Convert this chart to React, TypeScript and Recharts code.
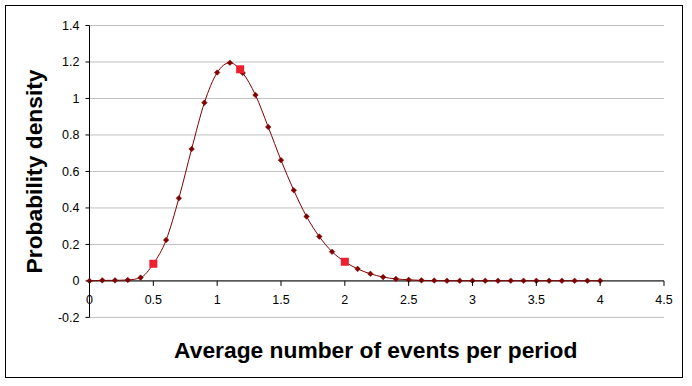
import React from 'react';
import {
  ComposedChart,
  Line,
  Scatter,
  XAxis,
  YAxis,
  CartesianGrid,
  ReferenceLine,
  Label,
} from 'recharts';

// events per period (x) and density
const xValues = [
  0, 0.1, 0.2, 0.3, 0.4, 0.5, 0.6, 0.7, 0.8, 0.9, 1.0, 1.1, 1.2, 1.3, 1.4, 1.5, 1.6, 1.7, 1.8, 1.9, 2.0,
  2.1, 2.2, 2.3, 2.4, 2.5, 2.6, 2.7, 2.8, 2.9, 3.0, 3.1, 3.2, 3.3, 3.4, 3.5, 3.6, 3.7, 3.8, 3.9, 4.0,
];
const density = [
  0, 0.003, 0.003, 0.005, 0.018, 0.094, 0.224, 0.453, 0.723, 0.977, 1.142, 1.196, 1.14, 1.019, 0.844,
  0.662, 0.497, 0.353, 0.243, 0.16, 0.105, 0.066, 0.039, 0.021, 0.011, 0.006, 0.003, 0.002, 0.001, 0.001,
  0.001, 0.001, 0.001, 0.001, 0.001, 0.001, 0.001, 0.001, 0.001, 0.001, 0.001,
];

// highlighted points (red squares)
const markX = [0.5, 1.18, 2.0];
const markY = [0.094, 1.16, 0.105];

const xTicks = [0, 0.5, 1, 1.5, 2, 2.5, 3, 3.5, 4, 4.5];
const yTicks = [-0.2, 0, 0.2, 0.4, 0.6, 0.8, 1, 1.2, 1.4];

const curve = xValues.map((x, i) => ({ x, y: density[i] }));
const marks = markX.map((x, i) => ({ x, y: markY[i] }));

const W = 692;
const H = 386;
const MARGIN = { top: 25.5, right: 28, bottom: 2.6, left: 0 };
const X_AXIS_H = 66;
const Y_MIN = -0.2;
const Y_MAX = 1.4;
const FONT = '"Liberation Sans", Arial, sans-serif';
const TITLE_SIZE = 22.8;

const plotH = H - MARGIN.top - MARGIN.bottom - X_AXIS_H;
// distance from the plot bottom up to the y = 0 line, where the x axis crosses
const zeroLift = (plotH * (0 - Y_MIN)) / (Y_MAX - Y_MIN);

const XTick = (props: any) => {
  const { x, y, payload } = props;
  const y0 = y - zeroLift;
  return (
    <g>
      <line x1={x} x2={x} y1={y0} y2={y0 + 5} stroke="#000" />
      <text x={x} y={y0 + 19} dy="0.35em" textAnchor="middle" fontSize={12.5} fontFamily={FONT} fill="#000">
        {payload.value}
      </text>
    </g>
  );
};

const Diamond = (props: any) => {
  const { cx, cy, index } = props;
  if (cx == null || cy == null) return <g key={`d-${index}`} />;
  const r = 2.8;
  return (
    <polygon
      key={`d-${index}`}
      points={`${cx},${cy - r} ${cx + r},${cy} ${cx},${cy + r} ${cx - r},${cy}`}
      fill="#800000"
      stroke="#800000"
      strokeWidth={0.5}
    />
  );
};

const RedSquare = (props: any) => {
  const { cx, cy } = props;
  return <rect x={cx - 4} y={cy - 4} width={8} height={8} fill="#EE2030" />;
};

export default function App() {
  return (
    <div style={{ position: 'absolute', left: 0, top: 0, width: W, height: H, background: '#fff' }}>
      <ComposedChart width={W} height={H} data={curve} margin={MARGIN}>
        <CartesianGrid horizontal vertical={false} stroke="#c0c0c0" />
        <XAxis
          dataKey="x"
          type="number"
          domain={[0, 4.5]}
          ticks={xTicks}
          axisLine={false}
          tickLine={false}
          tickSize={0}
          tickMargin={0}
          height={X_AXIS_H}
          tick={<XTick />}
          interval={0}
        >
          <Label
            value="Average number of events per period"
            position="center"
            dx={-1}
            style={{ fontFamily: FONT, fontSize: TITLE_SIZE, fontWeight: 'bold', fill: '#000' }}
          />
        </XAxis>
        <YAxis
          type="number"
          domain={[Y_MIN, Y_MAX]}
          ticks={yTicks}
          width={89.5}
          axisLine={{ stroke: '#000' }}
          tickLine={{ stroke: '#000' }}
          tickSize={4}
          tickMargin={6}
          interval={0}
          tick={{ fontSize: 12.5, fontFamily: FONT, fill: '#000' }}
        >
          <Label
            value="Probability density"
            angle={-90}
            position="center"
            dx={-10.5}
            style={{ fontFamily: FONT, fontSize: TITLE_SIZE, fontWeight: 'bold', fill: '#000', textAnchor: 'middle' }}
          />
        </YAxis>
        <ReferenceLine y={0} stroke="#000" />
        <Line
          dataKey="y"
          type="monotone"
          stroke="#800000"
          strokeWidth={1}
          dot={<Diamond />}
          activeDot={false}
          isAnimationActive={false}
        />
        <Scatter data={marks} dataKey="y" shape={<RedSquare />} isAnimationActive={false} />
      </ComposedChart>
      <div
        style={{
          position: 'absolute',
          left: 4.5,
          top: 4.5,
          width: 678,
          height: 373,
          border: '1.5px solid #000',
          boxSizing: 'border-box',
          pointerEvents: 'none',
        }}
      />
    </div>
  );
}
